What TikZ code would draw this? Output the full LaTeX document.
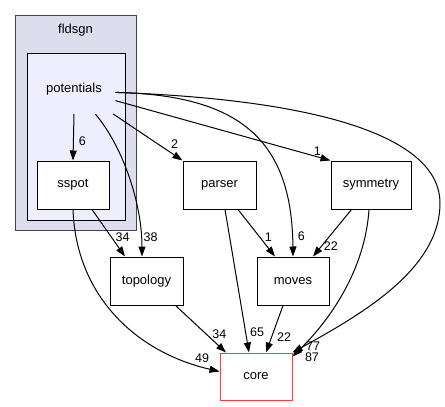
\documentclass[tikz,border=0pt]{standalone}
\usepackage{fontspec}
\setmainfont{Liberation Sans}
\usetikzlibrary{arrows.meta}

\definecolor{fldsgnfill}{HTML}{DDDDEE}
\definecolor{potfill}{HTML}{EEEEFF}
\definecolor{clustgray}{HTML}{444444}
\definecolor{corered}{HTML}{FF3B3B}

\tikzset{
  dirbox/.style={draw=black, fill=white, minimum width=72pt, minimum height=48pt, inner sep=0pt},
  clusterbox/.style={inner sep=0pt},
  lbl/.style={font=\fontsize{12.5}{14}\selectfont, inner sep=0pt},
  curvevia/.style 2 args={to path={.. controls #1 and #2 .. (\tikztotarget) \tikztonodes}}
}

\begin{document}
\begin{tikzpicture}[x=1pt,y=-1pt,->,>={Triangle[length=10pt,width=7pt]},line width=1pt,
  every node/.style={font=\fontsize{13}{15}\selectfont}]
  \useasboundingbox (0,0) rectangle (445,407);

  % clusters
  \node[clusterbox, draw=clustgray, fill=fldsgnfill, minimum width=121pt, minimum height=215pt] (fldsgn) at (75.5,122.5) {};
  \node[anchor=base] (fldsgnlbl) at (75.5,33) {fldsgn};
  \node[clusterbox, draw=black, fill=potfill, minimum width=98pt, minimum height=167pt] (potcl) at (76,136.5) {};
  \node[minimum width=82pt, minimum height=48pt, inner sep=0pt] (pot) at (74,89.5) {potentials};

  % directories
  \node[dirbox] (sspot) at (73,185) {sspot};
  \node[dirbox, minimum width=73pt] (parser) at (219.5,185) {parser};
  \node[dirbox, minimum width=80pt] (symmetry) at (371,185) {symmetry};
  \node[dirbox, minimum width=73pt] (topology) at (146.5,281) {topology};
  \node[dirbox] (moves) at (293,281) {moves};
  \node[dirbox, draw=corered, minimum height=47pt] (core) at (256,376.5) {core};
  \coordinate (bend77) at (440,203);

  \path
  (pot.south) edge node[lbl,pos=0.58,right=5pt] {6} (sspot.north)
  (pot.-49) edge[curvevia={(124,148)}{(142,205)}] node[lbl,pos=0.875,right=2pt] {38} ([xshift=-4.5pt]topology.north)
  (pot.-32) edge node[lbl,pos=0.8,above right=2pt] {2} (parser.north west)
  (pot.-15) edge node[lbl,pos=0.92,above right=0pt] {1} (symmetry.north west)
  (pot.-4) edge[curvevia={(240,95)}{(292,140)}] node[lbl,pos=0.94,right=5pt] {6} (moves.north)
  ([xshift=19pt]sspot.south) edge node[lbl,pos=0.58,right=4pt] {34} ([xshift=-21.5pt]topology.north)
  (sspot.south) edge[curvevia={(76,295)}{(135,352)}] node[lbl,pos=0.93,above=4pt] {49} ([yshift=5pt]core.west)
  ([xshift=18.5pt]parser.south) edge node[lbl,pos=0.58,right=5pt] {1} ([xshift=-18pt]moves.north)
  ([xshift=5.5pt]parser.south) edge node[lbl,pos=0.86,right=4pt] {65} ([xshift=-7pt]core.north)
  ([xshift=-19.5pt]symmetry.south) edge node[lbl,pos=0.78,right=2pt] {22} ([xshift=20pt]moves.north)
  ([xshift=-2pt]symmetry.south) edge[curvevia={(365,270)}{(330,320)}] node[lbl,pos=1,right=12pt,yshift=-1pt] {87} ([yshift=-4pt]core.north east)
  ([xshift=29pt]topology.south) edge node[lbl,pos=0.6,right=6pt] {34} ([xshift=-30pt]core.north)
  ([xshift=-10pt]moves.south) edge node[lbl,pos=0.67,right=5pt] {22} ([xshift=10pt]core.north)
  ;
  \draw (pot.-4) .. controls (330,100) and (440,140) .. (bend77)
    .. controls (440,270) and (360,315) .. (core.north east) node[lbl,pos=0.95,right=3pt,yshift=1pt] {77};
\end{tikzpicture}
\end{document}
